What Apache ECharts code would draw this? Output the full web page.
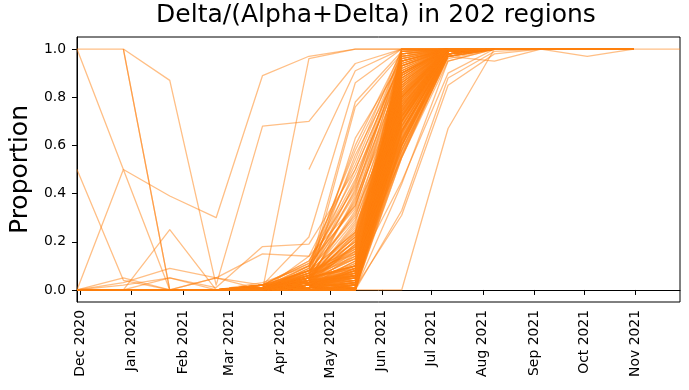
<!DOCTYPE html>
<html><head><meta charset="utf-8">
<script src="https://cdn.jsdelivr.net/npm/echarts@6/dist/echarts.min.js"></script>
<style>html,body{margin:0;padding:0;background:#fff}#c{width:689px;height:390px}</style>
</head><body><div id="c"></div>
<script>
// Sample dates (4-weekly)
const sampleDates = ['2020-11-29','2020-12-27','2021-01-24','2021-02-21','2021-03-21','2021-04-18','2021-05-16','2021-06-13','2021-07-11','2021-08-08','2021-09-05','2021-10-03','2021-10-31','2021-11-28'];
const monthTicks = ['2020-12-01','2021-01-01','2021-02-01','2021-03-01','2021-04-01','2021-05-01','2021-06-01','2021-07-01','2021-08-01','2021-09-01','2021-10-01','2021-11-01'];
const yTicks = [0, 0.2, 0.4, 0.6, 0.8, 1.0];
const xRange = ['2020-11-29', '2021-11-28'];
const titleText = 'Delta/(Alpha+Delta) in 202 regions';
const yLabel = 'Proportion';

// Irregular regions
const specialRegions = [
[1,1,.87,.02,.68,.70,.94,1,1,1,1,1,1],
[1,.5,.39,.30,.89,.97,1,1,1,1,1,1,1],
[.5,.04,0,0,0,.01,.03,.7,1,1,1,1,1],
[0,.5,0,0,0,0,.02,.6,.98,1,1,1,1],
[null,1,0,0,0,.01,.04,.8,1,1,1,1,1],
[null,1,0,0,0,0,.02,.75,1,1,1,1,1],
[0,.05,0,0,0,0,.01,.55,.97,1,1,1,1],
[0,0,.25,0,0,.01,.05,.65,.99,1,1,1,1],
[0,.03,.09,.05,.15,.14,.35,.9,1,1,1,1,1],
[0,0,.05,.01,.18,.19,.5,.95,1,1,1,1,1],
[0,0,0,.05,.02,.22,.86,1,1,1,1,1,1],
[null,null,null,null,null,.5,.91,1,1,1,1,1,1],
[0,0,0,0,0,.96,1,1,1,1,1,1,1],
[0,.02,.05,0,0,.02,.06,.66,.99,1,1,1,1],
[0,0,0,0,.01,.08,.78,.99,1,1,1,1,1],
[0,0,0,0,0,.05,.76,.98,1,1,1,1,1],
[0,0,0,0,0,.03,.63,.95,1,1,1,1,1],
[0,0,0,0,.01,.1,.46,.93,1,1,1,1,1],
[0,0,0,0,0,0,0,0,.67,1,1,1,1],
[0,0,0,0,0,.02,.1,.8,.99,1,1,.97,1],
[0,0,0,0,0,.01,.05,.6,.97,.95,1,1,1],
[0,0,0,0,0,0,.02,.7,1,1,1,1,1,1],
[0,0,0,0,0,.02,.08,.45,.9,1,1,1,1],
[0,0,0,0,0,0,.01,.31,.85,.98,1,1,1],
[0,0,0,.05,0,.01,.06,.72,1,1,1,1,1]
];

// Regions with very low share until May 2021
const lowStartRegions = [
[0,0,0,0,0,0,0,.33,.88,.99,1,1,1],
[0,0,0,0,0,.01,.01,.62,.97,1,1,1,1],
[0,0,0,0,0,0,.02,.68,.98,1,1,1,1],
[0,0,0,0,0,.01,0,.44,.95,1,1,1,1],
[0,0,0,0,0,0,.01,.73,.99,1,1,1,1],
[0,0,0,0,0,.02,.03,.77,.99,1,1,1,1],
[0,0,0,0,0,0,0,.81,1,1,1,1,1],
[0,0,0,0,0,.01,.02,.85,1,1,1,1,1],
[0,0,0,0,0,0,.01,.89,1,1,1,1,1],
[0,0,0,0,0,0,0,.55,.98,1,1,1,1],
[0,0,0,0,0,.01,.03,.56,.99,1,1,1,1],
[0,0,0,0,0,0,.01,.58,.97,1,1,1,1],
[0,0,0,0,0,.02,.02,.59,.99,1,1,1,1],
[0,0,0,0,0,0,0,.6,.98,1,1,1,1],
[0,0,0,0,0,.01,.01,.61,1,1,1,1,1],
[0,0,0,0,0,0,.02,.62,.99,1,1,1,1],
[0,0,0,0,0,0,0,.63,.98,1,1,1,1],
[0,0,0,0,0,.01,.03,.64,1,1,1,1,1],
[0,0,0,0,0,0,.01,.65,.99,1,1,1,1],
[0,0,0,0,0,.02,.02,.66,.98,1,1,1,1],
[0,0,0,0,0,0,0,.67,1,1,1,1,1],
[0,0,0,0,0,.01,.01,.68,.99,1,1,1,1],
[0,0,0,0,0,0,.02,.69,1,1,1,1,1],
[0,0,0,0,0,0,0,.7,.99,1,1,1,1],
[0,0,0,0,0,.01,.03,.71,1,1,1,1,1],
[0,0,0,0,0,0,.01,.72,.98,1,1,1,1],
[0,0,0,0,0,.02,.02,.73,1,1,1,1,1],
[0,0,0,0,0,0,0,.74,.99,1,1,1,1],
[0,0,0,0,0,.01,.01,.75,1,1,1,1,1],
[0,0,0,0,0,0,.02,.76,1,1,1,1,1],
[0,0,0,0,0,0,0,.77,.99,1,1,1,1],
[0,0,0,0,0,.01,.03,.78,1,1,1,1,1],
[0,0,0,0,0,0,.01,.79,1,1,1,1,1],
[0,0,0,0,0,.02,.02,.8,.99,1,1,1,1],
[0,0,0,0,0,0,0,.81,1,1,1,1,1],
[0,0,0,0,0,.01,.01,.82,1,1,1,1,1],
[0,0,0,0,0,0,.02,.83,1,1,1,1,1],
[0,0,0,0,0,0,0,.84,.99,1,1,1,1],
[0,0,0,0,0,.01,.03,.85,1,1,1,1,1],
[0,0,0,0,0,0,.01,.86,1,1,1,1,1],
[0,0,0,0,0,.02,.02,.87,1,1,1,1,1],
[0,0,0,0,0,0,0,.88,1,1,1,1,1],
[0,0,0,0,0,.01,.01,.89,1,1,1,1,1],
[0,0,0,0,0,0,.02,.9,1,1,1,1,1],
[0,0,0,0,0,0,0,.91,1,1,1,1,1],
[0,0,0,0,0,.01,.03,.92,1,1,1,1,1],
[0,0,0,0,0,0,.01,.93,1,1,1,1,1],
[0,0,0,0,0,.02,.02,.94,1,1,1,1,1],
[0,0,0,0,0,0,0,.95,1,1,1,1,1],
[0,0,0,0,0,.01,.01,.96,1,1,1,1,1],
[0,0,0,0,0,0,.02,.97,1,1,1,1,1],
[0,0,0,0,0,0,0,.98,1,1,1,1,1],
[0,0,0,0,0,.01,.03,.99,1,1,1,1,1],
[0,0,0,0,0,0,.01,1,1,1,1,1,1],
[0,0,0,0,0,.01,0,.57,.97,1,1,1,1],
[0,0,0,0,0,0,.02,.66,.99,1,1,1,1],
[0,0,0,0,0,.02,.01,.74,1,1,1,1,1],
[0,0,0,0,0,0,0,.83,.98,1,1,1,1],
[0,0,0,0,0,.01,.02,.88,1,1,1,1,1],
[0,0,0,0,0,0,.01,.72,1,1,1,1,1]
];

// Regions with a small share by mid-May 2021
const smallStartRegions = [
[0,0,0,0,0,.01,.04,.66,.98,1,1,1,1],
[0,0,0,0,.01,.02,.05,.7,.99,1,1,1,1],
[0,0,0,0,0,.03,.06,.75,.99,1,1,1,1],
[0,0,0,0,0,.01,.07,.8,1,1,1,1,1],
[0,0,0,0,.01,.04,.08,.56,.97,1,1,1,1],
[0,0,0,0,0,.02,.09,.58,.99,1,1,1,1],
[0,0,0,0,0,.05,.1,.6,1,1,1,1,1],
[0,0,0,0,.01,.01,.04,.61,.98,1,1,1,1],
[0,0,0,0,0,.03,.05,.63,.99,1,1,1,1],
[0,0,0,0,0,.02,.06,.64,1,1,1,1,1],
[0,0,0,0,.01,.04,.07,.66,.98,1,1,1,1],
[0,0,0,0,0,.01,.08,.67,1,1,1,1,1],
[0,0,0,0,0,.03,.09,.69,.99,1,1,1,1],
[0,0,0,0,.01,.05,.1,.7,1,1,1,1,1],
[0,0,0,0,0,.02,.04,.71,1,1,1,1,1],
[0,0,0,0,0,.01,.05,.72,.99,1,1,1,1],
[0,0,0,0,.01,.03,.06,.73,1,1,1,1,1],
[0,0,0,0,0,.04,.07,.74,1,1,1,1,1],
[0,0,0,0,0,.02,.08,.75,.99,1,1,1,1],
[0,0,0,0,.01,.01,.09,.76,1,1,1,1,1],
[0,0,0,0,0,.05,.1,.77,1,1,1,1,1],
[0,0,0,0,0,.03,.04,.78,1,1,1,1,1],
[0,0,0,0,.01,.02,.05,.79,.99,1,1,1,1],
[0,0,0,0,0,.04,.06,.8,1,1,1,1,1],
[0,0,0,0,0,.01,.07,.81,1,1,1,1,1],
[0,0,0,0,.01,.03,.08,.82,1,1,1,1,1],
[0,0,0,0,0,.02,.09,.83,1,1,1,1,1],
[0,0,0,0,0,.05,.1,.84,1,1,1,1,1],
[0,0,0,0,.01,.01,.04,.85,1,1,1,1,1],
[0,0,0,0,0,.04,.05,.86,1,1,1,1,1],
[0,0,0,0,0,.03,.06,.87,1,1,1,1,1],
[0,0,0,0,.01,.02,.07,.88,1,1,1,1,1],
[0,0,0,0,0,.01,.08,.89,1,1,1,1,1],
[0,0,0,0,0,.05,.09,.9,1,1,1,1,1],
[0,0,0,0,.01,.03,.1,.91,1,1,1,1,1],
[0,0,0,0,0,.02,.04,.92,1,1,1,1,1],
[0,0,0,0,0,.04,.05,.93,1,1,1,1,1],
[0,0,0,0,.01,.01,.06,.94,1,1,1,1,1],
[0,0,0,0,0,.03,.07,.95,1,1,1,1,1],
[0,0,0,0,0,.02,.08,.96,1,1,1,1,1],
[0,0,0,0,.01,.05,.09,.97,1,1,1,1,1],
[0,0,0,0,0,.04,.1,.98,1,1,1,1,1],
[0,0,0,0,0,.01,.06,.99,1,1,1,1,1],
[0,0,0,0,.01,.03,.07,1,1,1,1,1,1],
[0,0,0,0,0,.02,.05,.68,.98,1,1,1,1],
[0,0,0,0,0,.01,.08,.79,1,1,1,1,1],
[0,0,0,0,.01,.04,.06,.86,1,1,1,1,1],
[0,0,0,0,0,.02,.09,.62,.97,1,1,1,1],
[0,0,0,0,0,.03,.04,.9,1,1,1,1,1],
[0,0,0,0,.01,.05,.1,.74,.99,1,1,1,1]
];

// Regions with a moderate share by mid-May 2021
const midStartRegions = [
[0,0,0,0,0,.02,.11,.55,.95,1,1,1,1],
[0,0,0,0,.01,.03,.12,.6,.97,1,1,1,1],
[0,0,0,0,0,.04,.13,.63,.98,1,1,1,1],
[0,0,0,0,.02,.05,.14,.66,.99,1,1,1,1],
[0,0,0,0,0,.06,.15,.68,1,1,1,1,1],
[0,0,0,0,.01,.07,.16,.7,.99,1,1,1,1],
[0,0,0,0,0,.08,.17,.72,1,1,1,1,1],
[0,0,0,0,.02,.03,.18,.74,1,1,1,1,1],
[0,0,0,0,0,.04,.19,.76,.99,1,1,1,1],
[0,0,0,0,.01,.05,.2,.78,1,1,1,1,1],
[0,0,0,0,0,.02,.21,.8,1,1,1,1,1],
[0,0,0,0,.01,.06,.22,.82,1,1,1,1,1],
[0,0,0,0,0,.07,.23,.84,1,1,1,1,1],
[0,0,0,0,.02,.03,.24,.86,1,1,1,1,1],
[0,0,0,0,0,.05,.25,.88,1,1,1,1,1],
[0,0,0,0,.01,.04,.11,.9,1,1,1,1,1],
[0,0,0,0,0,.02,.12,.92,1,1,1,1,1],
[0,0,0,0,.01,.06,.13,.94,1,1,1,1,1],
[0,0,0,0,0,.03,.14,.96,1,1,1,1,1],
[0,0,0,0,.02,.08,.15,.98,1,1,1,1,1],
[0,0,0,0,0,.05,.16,1,1,1,1,1,1],
[0,0,0,0,.01,.04,.17,.65,.98,1,1,1,1],
[0,0,0,0,0,.07,.18,.7,1,1,1,1,1],
[0,0,0,0,.01,.02,.19,.73,.99,1,1,1,1],
[0,0,0,0,0,.06,.2,.77,1,1,1,1,1],
[0,0,0,0,.02,.03,.21,.81,1,1,1,1,1],
[0,0,0,0,0,.05,.22,.85,1,1,1,1,1],
[0,0,0,0,.01,.04,.23,.89,1,1,1,1,1],
[0,0,0,0,0,.08,.24,.93,1,1,1,1,1],
[0,0,0,0,.01,.02,.12,.97,1,1,1,1,1],
[0,0,0,0,0,.06,.14,.79,1,1,1,1,1],
[0,0,0,0,.02,.03,.16,.83,1,1,1,1,1],
[0,0,0,0,0,.05,.18,.87,1,1,1,1,1],
[0,0,0,0,.01,.07,.2,.91,1,1,1,1,1],
[0,0,0,0,0,.04,.13,.58,.96,1,1,1,1],
[0,0,0,0,.01,.02,.15,.62,.98,1,1,1,1],
[0,0,0,0,0,.06,.17,.95,1,1,1,1,1],
[0,0,0,0,.01,.03,.19,.99,1,1,1,1,1],
[0,0,0,0,0,.05,.22,.71,.99,1,1,1,1],
[0,0,0,0,.02,.08,.24,.76,1,1,1,1,1]
];

// Regions with a high share by mid-May 2021
const highStartRegions = [
[0,0,0,0,.01,.04,.27,.72,.99,1,1,1,1],
[0,0,0,0,0,.06,.29,.76,1,1,1,1,1],
[0,0,0,0,.02,.08,.31,.8,1,1,1,1,1],
[0,0,0,0,.01,.05,.33,.84,1,1,1,1,1],
[0,0,0,0,0,.1,.35,.88,1,1,1,1,1],
[0,0,0,0,.02,.07,.37,.91,1,1,1,1,1],
[0,0,0,0,.01,.03,.39,.94,1,1,1,1,1],
[0,0,0,0,0,.09,.41,.97,1,1,1,1,1],
[0,0,0,0,.02,.12,.43,.99,1,1,1,1,1],
[0,0,0,0,.01,.06,.45,1,1,1,1,1,1],
[0,0,0,0,0,.04,.28,.86,1,1,1,1,1],
[0,0,0,0,.01,.08,.3,.9,1,1,1,1,1],
[0,0,0,0,0,.05,.32,.78,1,1,1,1,1],
[0,0,0,0,.02,.11,.34,.93,1,1,1,1,1],
[0,0,0,0,0,.07,.36,.96,1,1,1,1,1],
[0,0,0,0,.01,.03,.38,.82,1,1,1,1,1],
[0,0,0,0,0,.09,.4,.98,1,1,1,1,1],
[0,0,0,0,.02,.06,.42,.89,1,1,1,1,1],
[0,0,0,0,.01,.1,.44,.95,1,1,1,1,1],
[0,0,0,0,0,.05,.26,.7,.98,1,1,1,1],
[0,0,0,0,.02,.12,.48,.9,1,1,1,1,1],
[0,0,0,0,.01,.08,.5,.95,1,1,1,1,1],
[0,0,0,0,0,.14,.52,.98,1,1,1,1,1],
[0,0,0,0,.03,.1,.54,1,1,1,1,1,1],
[0,0,0,0,.01,.06,.56,.93,1,1,1,1,1],
[0,0,0,0,.02,.11,.58,.97,1,1,1,1,1],
[0,0,0,0,0,.09,.6,.99,1,1,1,1,1]
];

const MONTHS = ['Jan','Feb','Mar','Apr','May','Jun','Jul','Aug','Sep','Oct','Nov','Dec'];
function ts(s){ const p = s.split('-').map(Number); return Date.UTC(p[0], p[1]-1, p[2]); }
const sampleTs = sampleDates.map(ts);
const allRegions = specialRegions.concat(lowStartRegions, smallStartRegions, midStartRegions, highStartRegions);

const series = allRegions.map(function(row){
  const data = [];
  row.forEach(function(v, i){ if (v !== null && v !== undefined) data.push([sampleTs[i], v]); });
  return {
    type: 'line', data: data, symbol: 'none', showSymbol: false, silent: true,
    animation: false, clip: true,
    lineStyle: { color: '#ff7f0e', width: 1.3, opacity: 0.5, join: 'round', cap: 'butt' },
    emphasis: { disabled: true }
  };
});

const FONT = 'DejaVu Sans';
const chart = echarts.init(document.getElementById('c'), null, { renderer: 'canvas' });
chart.setOption({
  animation: false,
  backgroundColor: '#ffffff',
  title: {
    text: titleText, left: 376, top: 3, textAlign: 'center', padding: 0,
    textStyle: { fontFamily: FONT, fontSize: 25, fontWeight: 'normal', color: '#000' }
  },
  grid: { left: 72, right: 9, top: 37, bottom: 88, show: true, borderColor: '#000', borderWidth: 1, backgroundColor: 'transparent' },
  xAxis: {
    type: 'value', min: ts(xRange[0]), max: ts(xRange[1]),
    splitLine: { show: false },
    axisLine: { show: true, lineStyle: { color: '#000', width: 1 } },
    axisTick: { show: true, length: 5, lineStyle: { color: '#000', width: 1 }, customValues: monthTicks.map(ts) },
    axisLabel: {
      customValues: monthTicks.map(ts), rotate: 90, margin: 8,
      fontFamily: FONT, fontSize: 13.9, color: '#000',
      formatter: function(v){ const d = new Date(v); return MONTHS[d.getUTCMonth()] + ' ' + d.getUTCFullYear(); }
    }
  },
  yAxis: {
    type: 'value', min: -0.05, max: 1.05,
    name: yLabel, nameLocation: 'middle', nameGap: 38,
    nameTextStyle: { fontFamily: FONT, fontSize: 25, color: '#000' },
    splitLine: { show: false },
    axisLine: { show: true, lineStyle: { color: '#000', width: 1 } },
    axisTick: { show: true, length: 5, lineStyle: { color: '#000', width: 1 }, customValues: yTicks },
    axisLabel: {
      customValues: yTicks, margin: 11, fontFamily: FONT, fontSize: 13.9, color: '#000',
      formatter: function(v){ return v.toFixed(1); }
    }
  },
  series: series
});
</script>
</body></html>
